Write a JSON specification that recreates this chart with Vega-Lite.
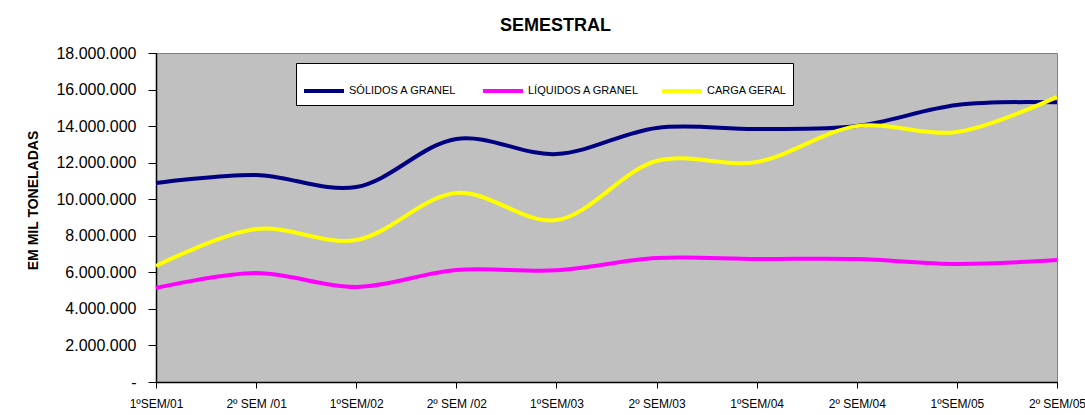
{
  "$schema": "https://vega.github.io/schema/vega-lite/v6.json",
  "width": 901,
  "height": 329,
  "autosize": {"type": "none"},
  "padding": {"left": 156, "top": 53, "right": 28, "bottom": 33},
  "background": "white",
  "config": {
    "font": "Liberation Sans",
    "locale": {"number": {"decimal": ",", "thousands": ".", "grouping": [3], "currency": ["R$", ""]}},
    "view": {"fill": "#C0C0C0", "stroke": "#808080", "strokeWidth": 1}
  },
  "title": {
    "text": "SEMESTRAL",
    "fontSize": 18,
    "fontWeight": "bold",
    "font": "Liberation Sans",
    "color": "black",
    "anchor": "middle",
    "offset": 10,
    "dx": -51
  },
  "data": {
    "values": [
      {"sem": "1ºSEM/01", "serie": "SÓLIDOS A GRANEL", "valor": 10890000},
      {"sem": "2º SEM /01", "serie": "SÓLIDOS A GRANEL", "valor": 11330000},
      {"sem": "1ºSEM/02", "serie": "SÓLIDOS A GRANEL", "valor": 10670000},
      {"sem": "2º SEM /02", "serie": "SÓLIDOS A GRANEL", "valor": 13300000},
      {"sem": "1ºSEM/03", "serie": "SÓLIDOS A GRANEL", "valor": 12470000},
      {"sem": "2º SEM/03", "serie": "SÓLIDOS A GRANEL", "valor": 13900000},
      {"sem": "1ºSEM/04", "serie": "SÓLIDOS A GRANEL", "valor": 13840000},
      {"sem": "2º SEM/04", "serie": "SÓLIDOS A GRANEL", "valor": 14000000},
      {"sem": "1ºSEM/05", "serie": "SÓLIDOS A GRANEL", "valor": 15150000},
      {"sem": "2º SEM/05", "serie": "SÓLIDOS A GRANEL", "valor": 15300000},
      {"sem": "1ºSEM/01", "serie": "LÍQUIDOS A GRANEL", "valor": 5140000},
      {"sem": "2º SEM /01", "serie": "LÍQUIDOS A GRANEL", "valor": 5960000},
      {"sem": "1ºSEM/02", "serie": "LÍQUIDOS A GRANEL", "valor": 5200000},
      {"sem": "2º SEM /02", "serie": "LÍQUIDOS A GRANEL", "valor": 6130000},
      {"sem": "1ºSEM/03", "serie": "LÍQUIDOS A GRANEL", "valor": 6110000},
      {"sem": "2º SEM/03", "serie": "LÍQUIDOS A GRANEL", "valor": 6780000},
      {"sem": "1ºSEM/04", "serie": "LÍQUIDOS A GRANEL", "valor": 6730000},
      {"sem": "2º SEM/04", "serie": "LÍQUIDOS A GRANEL", "valor": 6730000},
      {"sem": "1ºSEM/05", "serie": "LÍQUIDOS A GRANEL", "valor": 6460000},
      {"sem": "2º SEM/05", "serie": "LÍQUIDOS A GRANEL", "valor": 6670000},
      {"sem": "1ºSEM/01", "serie": "CARGA GERAL", "valor": 6350000},
      {"sem": "2º SEM /01", "serie": "CARGA GERAL", "valor": 8370000},
      {"sem": "1ºSEM/02", "serie": "CARGA GERAL", "valor": 7770000},
      {"sem": "2º SEM /02", "serie": "CARGA GERAL", "valor": 10340000},
      {"sem": "1ºSEM/03", "serie": "CARGA GERAL", "valor": 8860000},
      {"sem": "2º SEM/03", "serie": "CARGA GERAL", "valor": 12090000},
      {"sem": "1ºSEM/04", "serie": "CARGA GERAL", "valor": 12040000},
      {"sem": "2º SEM/04", "serie": "CARGA GERAL", "valor": 14000000},
      {"sem": "1ºSEM/05", "serie": "CARGA GERAL", "valor": 13680000},
      {"sem": "2º SEM/05", "serie": "CARGA GERAL", "valor": 15600000}
    ]
  },
  "mark": {"type": "line", "interpolate": "catmull-rom", "strokeWidth": 4},
  "encoding": {
    "x": {
      "field": "sem",
      "type": "ordinal",
      "sort": null,
      "scale": {"type": "point", "padding": 0},
      "axis": {
        "title": null,
        "labelAngle": 0,
        "labelFontSize": 12,
        "labelColor": "black",
        "labelPadding": 10,
        "labelOverlap": false,
        "domainColor": "black",
        "domainWidth": 1.5,
        "tickColor": "black",
        "tickSize": 6,
        "grid": false
      }
    },
    "y": {
      "field": "valor",
      "type": "quantitative",
      "scale": {"domain": [0, 18000000], "nice": false},
      "axis": {
        "title": "EM MIL TONELADAS",
        "titleFontSize": 14,
        "titleFontWeight": "bold",
        "titleColor": "black",
        "titleX": -123,
        "titleY": 147,
        "titleAngle": -90,
        "titleAlign": "center",
        "titleBaseline": "middle",
        "values": [0, 2000000, 4000000, 6000000, 8000000, 10000000, 12000000, 14000000, 16000000, 18000000],
        "labelExpr": "datum.value == 0 ? '-' : format(datum.value, ',d')",
        "labelFontSize": 16,
        "labelColor": "black",
        "labelPadding": 12,
        "domainColor": "black",
        "domainWidth": 1.5,
        "tickColor": "black",
        "tickSize": 8,
        "tickOffset": 0,
        "grid": false
      }
    },
    "color": {
      "field": "serie",
      "type": "nominal",
      "scale": {
        "domain": ["SÓLIDOS A GRANEL", "LÍQUIDOS A GRANEL", "CARGA GERAL"],
        "range": ["#000080", "#FF00FF", "#FFFF00"]
      },
      "legend": {
        "title": null,
        "orient": "none",
        "legendX": 140,
        "legendY": 10,
        "direction": "horizontal",
        "columns": 3,
        "gridAlign": "all",
        "columnPadding": 14,
        "padding": 6,
        "fillColor": "white",
        "strokeColor": "black",
        "symbolType": "stroke",
        "symbolSize": 1600,
        "symbolStrokeWidth": 4,
        "labelFontSize": 11,
        "labelColor": "black",
        "labelOffset": 3,
        "labelLimit": 300
      }
    }
  }
}
